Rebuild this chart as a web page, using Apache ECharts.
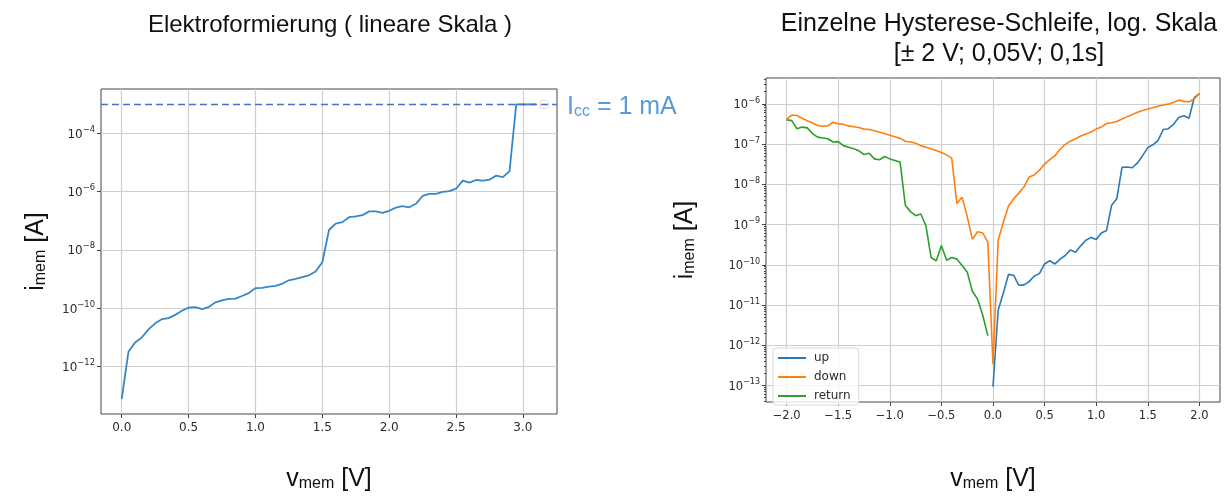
<!DOCTYPE html>
<html>
<head>
<meta charset="utf-8">
<title>Elektroformierung / Hysterese</title>
<script src="https://cdn.jsdelivr.net/npm/echarts@6/dist/echarts.min.js"></script>
<style>
  html, body { margin: 0; padding: 0; background: #fff; }
  #chart { width: 1225px; height: 497px; }
</style>
</head>
<body>
<div id="chart"></div>
<script>
// left plot: forming sweep, v_mem [V] and log10(i_mem / A)
const formV = [0, 0.05, 0.1, 0.15, 0.2, 0.25, 0.3, 0.35, 0.4, 0.45,
  0.5, 0.55, 0.6, 0.65, 0.7, 0.75, 0.8, 0.85, 0.9, 0.95,
  1.0, 1.05, 1.1, 1.15, 1.2, 1.25, 1.3, 1.35, 1.4, 1.45,
  1.5, 1.55, 1.6, 1.65, 1.7, 1.75, 1.8, 1.85, 1.9, 1.95,
  2.0, 2.05, 2.1, 2.15, 2.2, 2.25, 2.3, 2.35, 2.4, 2.45,
  2.5, 2.55, 2.6, 2.65, 2.7, 2.75, 2.8, 2.85, 2.9, 2.95,
  3.0, 3.05, 3.1];
const formLogI = [-13.13, -11.51, -11.19, -11.02, -10.74, -10.53, -10.39, -10.35, -10.24, -10.10,
  -9.99, -9.97, -10.04, -9.97, -9.81, -9.74, -9.69, -9.68, -9.59, -9.49,
  -9.32, -9.31, -9.27, -9.24, -9.17, -9.05, -9.00, -8.94, -8.88, -8.75,
  -8.43, -7.32, -7.10, -7.05, -6.88, -6.85, -6.81, -6.68, -6.68, -6.73,
  -6.66, -6.55, -6.50, -6.54, -6.42, -6.15, -6.08, -6.08, -6.01, -5.98,
  -5.90, -5.62, -5.69, -5.60, -5.62, -5.59, -5.45, -5.50, -5.30, -3.00,
  -3.00, -3.00, -3.00];
const complianceA = 1e-3;

// right plot: single hysteresis loop
const upV = [0, 0.05, 0.1, 0.15, 0.2, 0.25, 0.3, 0.35, 0.4, 0.45,
  0.5, 0.55, 0.6, 0.65, 0.7, 0.75, 0.8, 0.85, 0.9, 0.95,
  1.0, 1.05, 1.1, 1.15, 1.2, 1.25, 1.3, 1.35, 1.4, 1.45,
  1.5, 1.55, 1.6, 1.65, 1.7, 1.75, 1.8, 1.85, 1.9, 1.95, 2.0];
const upLogI = [-13.03, -11.13, -10.70, -10.24, -10.26, -10.51, -10.50, -10.42, -10.28, -10.22,
  -9.98, -9.90, -9.98, -9.86, -9.77, -9.63, -9.69, -9.53, -9.39, -9.32,
  -9.37, -9.21, -9.15, -8.52, -8.36, -7.58, -7.57, -7.59, -7.47, -7.29,
  -7.09, -7.02, -6.91, -6.64, -6.62, -6.51, -6.34, -6.30, -6.36, -5.85, -5.75];

const downV = [-2.0, -1.95, -1.9, -1.85, -1.8, -1.75, -1.7, -1.65, -1.6, -1.55,
  -1.5, -1.45, -1.4, -1.35, -1.3, -1.25, -1.2, -1.15, -1.1, -1.05,
  -1.0, -0.95, -0.9, -0.85, -0.8, -0.75, -0.7, -0.65, -0.6, -0.55,
  -0.5, -0.45, -0.4, -0.35, -0.3, -0.25, -0.2, -0.15, -0.1, -0.05,
  0,
  0.05, 0.1, 0.15, 0.2, 0.25, 0.3, 0.35, 0.4, 0.45, 0.5,
  0.55, 0.6, 0.65, 0.7, 0.75, 0.8, 0.85, 0.9, 0.95, 1.0,
  1.05, 1.1, 1.15, 1.2, 1.25, 1.3, 1.35, 1.4, 1.45, 1.5,
  1.55, 1.6, 1.65, 1.7, 1.75, 1.8, 1.85, 1.9, 1.95, 2.0];
const downLogI = [-6.38, -6.28, -6.29, -6.36, -6.42, -6.48, -6.54, -6.56, -6.55, -6.46,
  -6.50, -6.51, -6.55, -6.57, -6.59, -6.63, -6.64, -6.67, -6.71, -6.74,
  -6.78, -6.82, -6.86, -6.93, -6.95, -6.98, -7.04, -7.08, -7.12, -7.16,
  -7.21, -7.27, -7.35, -8.48, -8.32, -8.80, -9.37, -9.18, -9.21, -9.44,
  -12.48,
  -9.39, -8.95, -8.54, -8.36, -8.22, -8.07, -7.82, -7.77, -7.65, -7.50,
  -7.39, -7.29, -7.13, -7.01, -6.93, -6.87, -6.80, -6.75, -6.70, -6.63,
  -6.58, -6.49, -6.47, -6.44, -6.38, -6.32, -6.27, -6.21, -6.17, -6.13,
  -6.10, -6.06, -6.03, -6.01, -5.96, -5.91, -5.94, -5.95, -5.88, -5.75];

const returnV = [-2.0, -1.95, -1.9, -1.85, -1.8, -1.75, -1.7, -1.65, -1.6, -1.55,
  -1.5, -1.45, -1.4, -1.35, -1.3, -1.25, -1.2, -1.15, -1.1, -1.05,
  -1.0, -0.95, -0.9, -0.85, -0.8, -0.75, -0.7, -0.65, -0.6, -0.55,
  -0.5, -0.45, -0.4, -0.35, -0.3, -0.25, -0.2, -0.15, -0.1, -0.05];
const returnLogI = [-6.40, -6.42, -6.62, -6.58, -6.60, -6.74, -6.83, -6.85, -6.87, -6.95,
  -6.94, -7.04, -7.08, -7.12, -7.17, -7.26, -7.23, -7.37, -7.39, -7.31,
  -7.37, -7.41, -7.45, -8.52, -8.68, -8.78, -8.74, -9.03, -9.82, -9.90,
  -9.52, -9.89, -9.82, -9.86, -10.02, -10.18, -10.66, -10.85, -11.25, -11.76];

// tick labels
const formXTicks = [0, 0.5, 1.0, 1.5, 2.0, 2.5, 3.0];
const formYTicks = [-12, -10, -8, -6, -4];
const loopXTicks = [-2.0, -1.5, -1.0, -0.5, 0, 0.5, 1.0, 1.5, 2.0];
const loopYTicks = [-13, -12, -11, -10, -9, -8, -7, -6];

const TICK_FONT = 'DejaVu Sans';
const TEXT_FONT = 'Liberation Sans';
const TICK_COLOR = '#2b2b2b';
const GRID_LINE = { lineStyle: { color: '#cfcfcf', width: 1.2 } };

const pairs = (xs, ys) => xs.map((x, i) => [x, ys[i]]);
const voltLabel = v => v.toFixed(1).replace('-', '\u2212');
const powLabel = v => '{b|10}{s|\u2212' + Math.round(-v) + '}';

// minor ticks of the log axis (2..9 x 10^n)
const minorTicks = [];
for (let n = -14; n <= -6; n++) {
  for (let k = 2; k <= 9; k++) minorTicks.push(n + Math.log10(k));
}

const nameRich = {
  t: { fontFamily: TEXT_FONT, fontSize: 25, color: '#111', lineHeight: 30, verticalAlign: 'bottom' },
  s: { fontFamily: TEXT_FONT, fontSize: 16, color: '#111', lineHeight: 22, verticalAlign: 'bottom' }
};

function xAxisFor(gridIndex, min, max, ticks, fontSize, nameGap) {
  return {
    type: 'value', gridIndex, min, max,
    axisLine: { show: false, onZero: false },
    axisTick: { customValues: ticks, length: 4, lineStyle: { color: '#444' } },
    axisLabel: {
      customValues: ticks, formatter: voltLabel, margin: 8,
      fontFamily: TICK_FONT, fontSize, color: TICK_COLOR
    },
    splitLine: Object.assign({ show: true }, GRID_LINE),
    name: '{t|v}{s|mem}{t| [V]}',
    nameLocation: 'middle',
    nameGap,
    nameTextStyle: { rich: nameRich }
  };
}

function yAxisFor(gridIndex, min, max, ticks, fontSize, nameGap) {
  return {
    type: 'value', gridIndex, min, max,
    position: 'left',
    axisLine: { show: false, onZero: false },
    axisTick: { customValues: ticks, length: 4, lineStyle: { color: '#444' } },
    axisLabel: {
      customValues: ticks, formatter: powLabel, margin: 6,
      rich: {
        b: { fontFamily: TICK_FONT, fontSize, color: TICK_COLOR, lineHeight: fontSize + 3, verticalAlign: 'bottom' },
        s: { fontFamily: TICK_FONT, fontSize: fontSize * 0.7, color: TICK_COLOR, lineHeight: 9, verticalAlign: 'top' }
      }
    },
    splitLine: Object.assign({ show: true }, GRID_LINE),
    name: '{t|i}{s|mem}{t| [A]}',
    nameLocation: 'middle',
    nameRotate: 90,
    nameGap,
    nameTextStyle: { rich: nameRich }
  };
}

const chart = echarts.init(document.getElementById('chart'), null, { renderer: 'canvas' });

const option = {
  backgroundColor: '#fff',
  animation: false,
  title: [
    {
      text: 'Elektroformierung ( lineare Skala )',
      left: 325, top: 8, textAlign: 'center',
      textStyle: { fontFamily: TEXT_FONT, fontSize: 24, fontWeight: 'normal', color: '#111' }
    },
    {
      text: 'Einzelne Hysterese-Schleife, log. Skala\n[\u00b1 2 V; 0,05V; 0,1s]',
      left: 994, top: 4, textAlign: 'center',
      textStyle: { fontFamily: TEXT_FONT, fontSize: 25, fontWeight: 'normal', color: '#111', lineHeight: 30 }
    }
  ],
  legend: {
    data: ['up', 'down', 'return'],
    orient: 'vertical',
    left: 773, top: 348,
    icon: 'rect', itemWidth: 28, itemHeight: 2,
    itemGap: 7,
    padding: [4, 8, 3, 5],
    backgroundColor: 'rgba(255,255,255,0.8)',
    borderColor: '#dadada', borderWidth: 1, borderRadius: 3,
    textStyle: { fontFamily: TICK_FONT, fontSize: 12, color: TICK_COLOR, padding: [0, 0, 0, 3] }
  },
  grid: [
    { left: 101, top: 89, width: 456, height: 340, show: true, borderColor: '#444', borderWidth: 1, backgroundColor: '#fff' },
    { left: 766, top: 78, width: 454, height: 338, show: true, borderColor: '#444', borderWidth: 1, backgroundColor: '#fff' }
  ],
  xAxis: [
    xAxisFor(0, -0.155, 3.255, formXTicks, 12, 48),
    xAxisFor(1, -2.2, 2.2, loopXTicks, 11.5, 60)
  ],
  yAxis: [
    yAxisFor(0, -13.65, -2.47, formYTicks, 12, 52),
    yAxisFor(1, -13.41, -5.36, loopYTicks, 11.5, 68),
    {
      type: 'value', gridIndex: 1, min: -13.41, max: -5.36,
      position: 'left', offset: 0,
      axisLine: { show: false, onZero: false },
      axisTick: { customValues: minorTicks, length: 2, lineStyle: { color: '#444' } },
      axisLabel: { show: false },
      splitLine: { show: false }
    }
  ],
  series: [
    {
      name: 'Elektroformierung',
      type: 'line', xAxisIndex: 0, yAxisIndex: 0,
      data: pairs(formV, formLogI),
      symbol: 'none',
      lineStyle: { color: '#3587c7', width: 1.8 },
      markLine: {
        silent: true,
        symbol: 'none',
        data: [{ yAxis: Math.log10(complianceA) }],
        lineStyle: { type: [7, 4], color: '#4472c4', width: 1.3 },
        label: {
          position: 'end',
          distance: 10,
          formatter: '{t|I}{s|cc}{t| = 1 mA}',
          rich: {
            t: { fontFamily: TEXT_FONT, fontSize: 25, color: '#5b9bd5', lineHeight: 30, verticalAlign: 'bottom' },
            s: { fontFamily: TEXT_FONT, fontSize: 16, color: '#5b9bd5', lineHeight: 20, verticalAlign: 'bottom' }
          }
        }
      },
      markPoint: {
        silent: true,
        symbol: 'roundRect',
        symbolSize: 8,
        label: { show: false },
        itemStyle: { color: 'rgba(255,255,255,0)', borderColor: '#dcdcdc', borderWidth: 1 },
        data: [{ coord: [3.16, Math.log10(complianceA)] }]
      }
    },
    {
      name: 'up', type: 'line', xAxisIndex: 1, yAxisIndex: 1,
      data: pairs(upV, upLogI), symbol: 'none',
      lineStyle: { color: '#2a7ab9', width: 1.6 }, itemStyle: { color: '#2a7ab9' }
    },
    {
      name: 'down', type: 'line', xAxisIndex: 1, yAxisIndex: 1,
      data: pairs(downV, downLogI), symbol: 'none',
      lineStyle: { color: '#ff7f0e', width: 1.6 }, itemStyle: { color: '#ff7f0e' }
    },
    {
      name: 'return', type: 'line', xAxisIndex: 1, yAxisIndex: 1,
      data: pairs(returnV, returnLogI), symbol: 'none',
      lineStyle: { color: '#2ca02c', width: 1.6 }, itemStyle: { color: '#2ca02c' }
    }
  ]
};

chart.setOption(option);
</script>
</body>
</html>
